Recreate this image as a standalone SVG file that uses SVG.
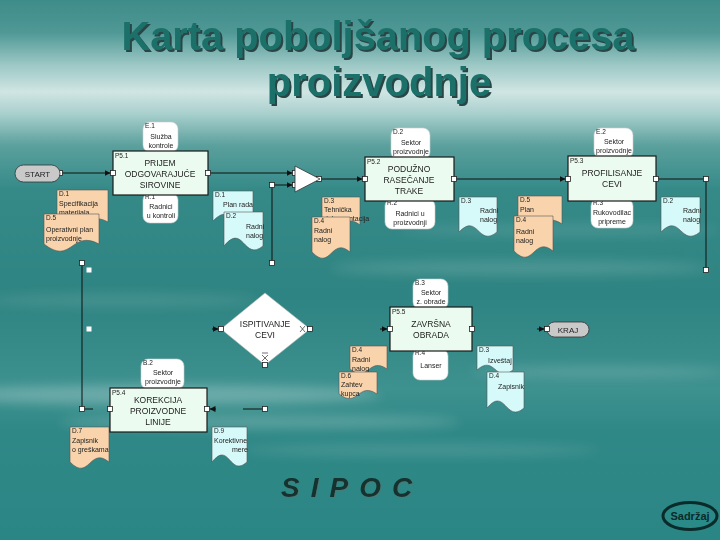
<svg xmlns="http://www.w3.org/2000/svg" width="720" height="540" viewBox="0 0 720 540">
<defs>
<linearGradient id="bg" x1="0" y1="0" x2="0" y2="1">
<stop offset="0" stop-color="#3e8c89"/>
<stop offset="0.06" stop-color="#4f9896"/>
<stop offset="0.12" stop-color="#9cc8c5"/>
<stop offset="0.17" stop-color="#d0e5e3"/>
<stop offset="0.21" stop-color="#a9d0cd"/>
<stop offset="0.27" stop-color="#5aa09d"/>
<stop offset="0.35" stop-color="#358a88"/>
<stop offset="0.55" stop-color="#2e8482"/>
<stop offset="0.72" stop-color="#3d918f"/>
<stop offset="0.8" stop-color="#2f8886"/>
<stop offset="1" stop-color="#2a8685"/>
</linearGradient>
<filter id="blur" x="-20%" y="-200%" width="140%" height="500%"><feGaussianBlur stdDeviation="6"/></filter>
<filter id="shadow" x="-5%" y="-20%" width="110%" height="140%"><feDropShadow dx="2" dy="2" stdDeviation="0.4" flood-color="#2b4544" flood-opacity="1"/></filter>
<filter id="shadow2" x="-5%" y="-20%" width="110%" height="140%"><feDropShadow dx="1" dy="1" stdDeviation="0.3" flood-color="#4a7a78" flood-opacity="1"/></filter>
<marker id="arr" markerWidth="6" markerHeight="6" refX="6" refY="3" orient="auto" markerUnits="userSpaceOnUse"><path d="M0,0 L6,3 L0,6 z" fill="#111"/></marker>
<style>
.t{font-family:"Liberation Sans",Arial,sans-serif;fill:#222}
.lb{font-size:6.5px}
.dt{font-size:7px}
.bt{font-size:8.5px;text-anchor:middle}
.rt{font-size:7px;text-anchor:middle}
.proc{fill:#ecfbef;stroke:#1a1a1a;stroke-width:1.2}
.rnd{fill:#ffffff;stroke:#cfcfcf;stroke-width:0.6}
.org{fill:#f8d3ab;stroke:#555;stroke-width:0.6}
.cyn{fill:#d6fafa;stroke:#555;stroke-width:0.6}
.pill{fill:#c9c9c9;stroke:#333;stroke-width:0.8}
.ln{stroke:#111;stroke-width:1;fill:none}
.sq{fill:#fff;stroke:#222;stroke-width:0.8}
.sqn{fill:#fff}
</style>
</defs>
<rect width="720" height="540" fill="url(#bg)"/>
<g filter="url(#blur)" fill="#ffffff">
<ellipse cx="160" cy="395" rx="220" ry="10" opacity="0.25"/>
<ellipse cx="260" cy="422" rx="200" ry="7" opacity="0.2"/>
<ellipse cx="520" cy="268" rx="190" ry="7" opacity="0.15"/>
<ellipse cx="600" cy="372" rx="130" ry="6" opacity="0.15"/>
<ellipse cx="120" cy="300" rx="140" ry="6" opacity="0.12"/>
<ellipse cx="420" cy="450" rx="180" ry="6" opacity="0.12"/>
<ellipse cx="560" cy="230" rx="160" ry="5" opacity="0.12"/>
</g>

<g id="title" font-family="'Liberation Sans',Arial,sans-serif" font-weight="bold" font-size="40" text-anchor="middle" fill="#1d706a" filter="url(#shadow)">
<text x="378" y="50" textLength="513" lengthAdjust="spacingAndGlyphs">Karta poboljšanog procesa</text>
<text x="379" y="96">proizvodnje</text>
</g>

<g id="connectors">
<line class="ln" x1="60" y1="173" x2="110.5" y2="173" marker-end="url(#arr)"/>
<line class="ln" x1="208" y1="173" x2="292.5" y2="173" marker-end="url(#arr)"/>
<line class="ln" x1="272" y1="185" x2="292.5" y2="185" marker-end="url(#arr)"/>
<line class="ln" x1="272" y1="185" x2="272" y2="263"/>
<line class="ln" x1="320" y1="179" x2="362.5" y2="179" marker-end="url(#arr)"/>
<line class="ln" x1="454" y1="179" x2="565.5" y2="179" marker-end="url(#arr)"/>
<line class="ln" x1="656" y1="179" x2="706" y2="179"/>
<line class="ln" x1="706" y1="179" x2="706" y2="270"/>
<line class="ln" x1="82" y1="263" x2="82" y2="409"/>
<line class="ln" x1="82" y1="409" x2="93" y2="409"/>
<line class="ln" x1="216" y1="409" x2="209.5" y2="409" marker-end="url(#arr)"/>
<line class="ln" x1="243" y1="409" x2="265" y2="409"/>
<line class="ln" x1="212" y1="329" x2="218.5" y2="329" marker-end="url(#arr)"/>
<line class="ln" x1="380" y1="329" x2="387.5" y2="329" marker-end="url(#arr)"/>
<line class="ln" x1="537" y1="329" x2="544.5" y2="329" marker-end="url(#arr)"/>
<rect class="sq" x="57.5" y="170.5" width="5" height="5"/>
<rect class="sq" x="292.5" y="170.5" width="5" height="5"/>
<rect class="sq" x="292.5" y="182.5" width="5" height="5"/>
<rect class="sq" x="269.5" y="182.5" width="5" height="5"/>
<rect class="sq" x="269.5" y="260.5" width="5" height="5"/>
<rect class="sq" x="316.5" y="176.5" width="5" height="5"/>
<rect class="sq" x="703.5" y="176.5" width="5" height="5"/>
<rect class="sq" x="703.5" y="267.5" width="5" height="5"/>
<rect class="sq" x="79.5" y="260.5" width="5" height="5"/>
<rect class="sq" x="79.5" y="406.5" width="5" height="5"/>
<rect class="sqn" x="86.5" y="267.5" width="5" height="5"/>
<rect class="sqn" x="86.5" y="326.5" width="5" height="5"/>
<rect class="sq" x="262.5" y="406.5" width="5" height="5"/>
</g>

<g id="node-start"><rect class="pill" x="15" y="165" width="45" height="17" rx="8.5"/><text class="t" x="37.5" y="176.5" font-size="8" text-anchor="middle">START</text></g>
<g id="node-kraj"><rect class="pill" x="547" y="322" width="42" height="15" rx="7.5"/><text class="t" x="568" y="332.5" font-size="8" text-anchor="middle">KRAJ</text><rect class="sq" x="544.5" y="326.5" width="5" height="5"/></g>

<g id="node-merge"><polygon points="295,166 295,192 320,179" fill="#fff" stroke="#333" stroke-width="0.8"/></g>

<g id="doc-d1-spec"><path class="org" d="M57,190 H108 V222 C83,208 83,244 57,222 Z"/><text class="t lb" x="59" y="196">D.1</text><text class="t dt" x="59" y="206">Specifikacija</text><text class="t dt" x="59" y="215">materijala</text></g>
<g id="doc-d5-plan"><path class="org" d="M44,214 H99 V244 C71.5,229 71.5,266 44,244 Z"/><text class="t lb" x="46" y="220">D.5</text><text class="t dt" x="46" y="232">Operativni plan</text><text class="t dt" x="46" y="241">proizvodnje</text></g>

<g id="doc-c-d1"><path class="cyn" d="M213,191 H253 V221 C233,236 233,200 213,221 Z"/><text class="t lb" x="215" y="197">D.1</text><text class="t dt" x="223" y="207">Plan rada</text></g>
<g id="doc-c-d2"><path class="cyn" d="M224,212 H263 V246 C243.5,262 243.5,222 224,246 Z"/><text class="t lb" x="226" y="218">D.2</text><text class="t dt" x="246" y="229">Radni</text><text class="t dt" x="246" y="238">nalog</text></g>

<g id="doc-d3-teh"><path class="org" d="M322,197 H360 V225 C341,210 341,244 322,225 Z"/><text class="t lb" x="324" y="203">D.3</text><text class="t dt" x="324" y="212">Tehnička</text><text class="t dt" x="324" y="221">dokumentacija</text></g>
<g id="doc-d4-rn1"><path class="org" d="M312,217 H350 V252 C331,236 331,272 312,252 Z"/><text class="t lb" x="314" y="223">D.4</text><text class="t dt" x="314" y="233">Radni</text><text class="t dt" x="314" y="242">nalog</text></g>

<g id="doc-c-d3"><path class="cyn" d="M459,197 H497 V232 C478,248 478,212 459,232 Z"/><text class="t lb" x="461" y="203">D.3</text><text class="t dt" x="480" y="213">Radni</text><text class="t dt" x="480" y="222">nalog</text></g>

<g id="doc-d5-plan2"><path class="org" d="M518,196 H562 V224 C540,209 540,243 518,224 Z"/><text class="t lb" x="520" y="202">D.5</text><text class="t dt" x="520" y="212">Plan</text></g>
<g id="doc-d4-rn2"><path class="org" d="M514,216 H553 V251 C533.5,235 533.5,271 514,251 Z"/><text class="t lb" x="516" y="222">D.4</text><text class="t dt" x="516" y="234">Radni</text><text class="t dt" x="516" y="243">nalog</text></g>

<g id="doc-c-d2r"><path class="cyn" d="M661,197 H700 V232 C680.5,248 680.5,212 661,232 Z"/><text class="t lb" x="663" y="203">D.2</text><text class="t dt" x="683" y="213">Radni</text><text class="t dt" x="683" y="222">nalog</text></g>

<g id="doc-d4-rn3"><path class="org" d="M350,346 H387 V369 C368.5,356 368.5,384 350,369 Z"/><text class="t lb" x="352" y="352">D.4</text><text class="t dt" x="352" y="362">Radni</text><text class="t dt" x="352" y="371">nalog</text></g>
<g id="doc-d6"><path class="org" d="M339,372 H377 V394 C358,381 358,409 339,394 Z"/><text class="t lb" x="341" y="378">D.6</text><text class="t dt" x="341" y="387">Zahtev</text><text class="t dt" x="341" y="396">kupca</text></g>

<g id="doc-c-d3b"><path class="cyn" d="M477,346 H513 V370 C495,384 495,354 477,370 Z"/><text class="t lb" x="479" y="352">D.3</text><text class="t dt" x="488" y="363">Izveštaj</text></g>
<g id="doc-c-d4b"><path class="cyn" d="M487,372 H524 V408 C505.5,424 505.5,386 487,408 Z"/><text class="t lb" x="489" y="378">D.4</text><text class="t dt" x="498" y="389">Zapisnik</text></g>

<g id="doc-d7"><path class="org" d="M70,427 H109 V462 C89.5,446 89.5,482 70,462 Z"/><text class="t lb" x="72" y="433">D.7</text><text class="t dt" x="72" y="443">Zapisnik</text><text class="t dt" x="72" y="452">o greškama</text></g>
<g id="doc-c-d9"><path class="cyn" d="M212,427 H247 V462 C229.5,478 229.5,440 212,462 Z"/><text class="t lb" x="214" y="433">D.9</text><text class="t dt" x="214" y="443">Korektivne</text><text class="t dt" x="232" y="452">mere</text></g>

<g id="node-e1"><rect class="rnd" x="143" y="122" width="35" height="30" rx="7"/><text class="t lb" x="145" y="128">E.1</text><text class="t rt" x="161" y="139">Služba</text><text class="t rt" x="161" y="148">kontrole</text></g>
<g id="node-r1"><rect class="rnd" x="143" y="193" width="35" height="30" rx="7"/><text class="t lb" x="145" y="199">R.1</text><text class="t rt" x="161" y="209">Radnici</text><text class="t rt" x="161" y="218">u kontroli</text></g>
<g id="node-d2s"><rect class="rnd" x="391" y="128" width="39" height="31" rx="7"/><text class="t lb" x="393" y="134">D.2</text><text class="t rt" x="411" y="145">Sektor</text><text class="t rt" x="411" y="154">proizvodnje</text></g>
<g id="node-r2"><rect class="rnd" x="385" y="199" width="50" height="30" rx="7"/><text class="t lb" x="387" y="205">R.2</text><text class="t rt" x="410" y="216">Radnici u</text><text class="t rt" x="410" y="225">proizvodnji</text></g>
<g id="node-e2"><rect class="rnd" x="594" y="128" width="39" height="30" rx="7"/><text class="t lb" x="596" y="134">E.2</text><text class="t rt" x="614" y="144">Sektor</text><text class="t rt" x="614" y="153">proizvodnje</text></g>
<g id="node-r3"><rect class="rnd" x="591" y="199" width="42" height="29" rx="7"/><text class="t lb" x="593" y="205">R.3</text><text class="t rt" x="612" y="215">Rukovodilac</text><text class="t rt" x="612" y="224">pripreme</text></g>
<g id="node-b3"><rect class="rnd" x="413" y="279" width="35" height="30" rx="7"/><text class="t lb" x="415" y="285">B.3</text><text class="t rt" x="431" y="295">Sektor</text><text class="t rt" x="431" y="304">z. obrade</text></g>
<g id="node-r4"><rect class="rnd" x="413" y="349" width="35" height="31" rx="7"/><text class="t lb" x="415" y="355">R.4</text><text class="t rt" x="431" y="368">Lanser</text></g>
<g id="node-b2"><rect class="rnd" x="141" y="359" width="43" height="30" rx="7"/><text class="t lb" x="143" y="365">B.2</text><text class="t rt" x="163" y="375">Sektor</text><text class="t rt" x="163" y="384">proizvodnje</text></g>

<g id="node-p51"><rect class="proc" x="113" y="151" width="95" height="44"/><text class="t lb" x="115" y="158">P5.1</text><text class="t bt" x="160" y="166">PRIJEM</text><text class="t bt" x="160" y="177">ODGOVARAJUĆE</text><text class="t bt" x="160" y="188">SIROVINE</text>
<rect class="sq" x="110.5" y="170.5" width="5" height="5"/><rect class="sq" x="205.5" y="170.5" width="5" height="5"/></g>
<g id="node-p52"><rect class="proc" x="365" y="157" width="89" height="44" stroke-width="2"/><text class="t lb" x="367" y="164">P5.2</text><text class="t bt" x="409" y="172">PODUŽNO</text><text class="t bt" x="409" y="183">RASEČANJE</text><text class="t bt" x="409" y="194">TRAKE</text>
<rect class="sq" x="362.5" y="176.5" width="5" height="5"/><rect class="sq" x="451.5" y="176.5" width="5" height="5"/></g>
<g id="node-p53"><rect class="proc" x="568" y="156" width="88" height="45"/><text class="t lb" x="570" y="163">P5.3</text><text class="t bt" x="612" y="176">PROFILISANJE</text><text class="t bt" x="612" y="187">CEVI</text>
<rect class="sq" x="565.5" y="176.5" width="5" height="5"/><rect class="sq" x="653.5" y="176.5" width="5" height="5"/></g>
<g id="node-p54"><rect class="proc" x="110" y="388" width="97" height="44"/><text class="t lb" x="112" y="395">P5.4</text><text class="t bt" x="158" y="403">KOREKCIJA</text><text class="t bt" x="158" y="414">PROIZVODNE</text><text class="t bt" x="158" y="425">LINIJE</text>
<rect class="sq" x="107.5" y="406.5" width="5" height="5"/><rect class="sq" x="204.5" y="406.5" width="5" height="5"/></g>
<g id="node-p55"><rect class="proc" x="390" y="307" width="82" height="44"/><text class="t lb" x="392" y="314">P5.5</text><text class="t bt" x="431" y="327">ZAVRŠNA</text><text class="t bt" x="431" y="338">OBRADA</text>
<rect class="sq" x="387.5" y="326.5" width="5" height="5"/><rect class="sq" x="469.5" y="326.5" width="5" height="5"/></g>

<g id="node-decision"><polygon points="265,293 310,329 265,365 221,329" fill="#fff" stroke="#bbb" stroke-width="0.6"/><text class="t bt" x="265" y="327" font-size="9">ISPITIVANJE</text><text class="t bt" x="265" y="338" font-size="9">CEVI</text>
<path d="M300,326 L305,332 M305,326 L300,332 M262,353 H268 M262,355 L268,361 M268,355 L262,361" stroke="#333" stroke-width="0.7" fill="none"/>
<rect class="sq" x="218.5" y="326.5" width="5" height="5"/><rect class="sq" x="307.5" y="326.5" width="5" height="5"/><rect class="sq" x="262.5" y="362.5" width="5" height="5"/></g>

<g id="sipoc" font-family="'Liberation Sans',Arial,sans-serif" font-weight="bold" font-style="italic" font-size="28" letter-spacing="11" fill="#13302f" filter="url(#shadow2)">
<text x="281" y="497">SIPOC</text>
</g>

<g id="btn-sadrzaj"><ellipse cx="690" cy="516" rx="27" ry="13.5" fill="#2a8a88" stroke="#0b2b2a" stroke-width="3"/><text x="690" y="520" font-family="'Liberation Sans',Arial,sans-serif" font-size="11" font-weight="bold" fill="#0b2b2a" text-anchor="middle">Sadržaj</text></g>
</svg>
